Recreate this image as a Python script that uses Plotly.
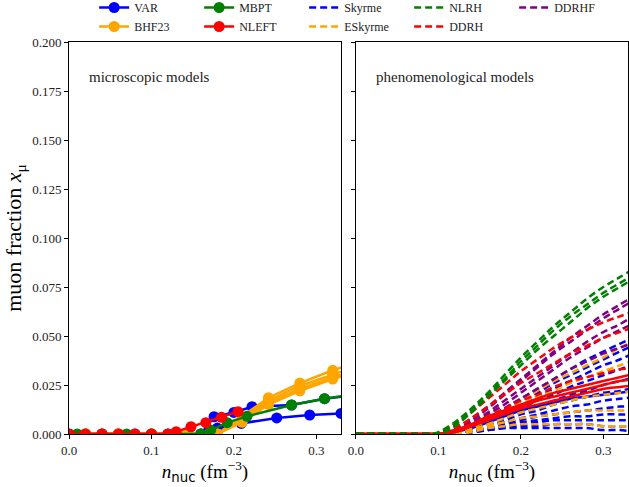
import plotly.graph_objects as go

# ---------------- microscopic models (left panel) ----------------
VAR_X = [[0.00, 0.04, 0.08, 0.12, 0.16, 0.18, 0.209, 0.252, 0.292, 0.33, 0.37],
         [0.02, 0.06, 0.10, 0.14, 0.16, 0.176, 0.20, 0.222, 0.27, 0.31, 0.35]]
VAR_Y = [[0, 0, 0, 0, 0, 0.003, 0.0054, 0.0082, 0.0097, 0.0105, 0.011],
         [0, 0, 0, 0, 0, 0.0088, 0.011, 0.0139, 0.0148, 0.018, 0.020]]

BHF_X = [0.02, 0.06, 0.10, 0.14, 0.18, 0.21, 0.242, 0.28, 0.32, 0.36]
BHF_Y = [[0, 0, 0, 0, 0, 0.009, 0.0185, 0.0260, 0.0325, 0.038],
         [0, 0, 0, 0, 0, 0.008, 0.0170, 0.0245, 0.0305, 0.036],
         [0, 0, 0, 0, 0, 0.007, 0.0160, 0.0230, 0.0290, 0.034],
         [0, 0, 0, 0, 0, 0.006, 0.0150, 0.0220, 0.0280, 0.033]]

MBPT_X = [0.01, 0.04, 0.07, 0.10, 0.13, 0.16, 0.172, 0.192, 0.216, 0.27, 0.31, 0.35]
MBPT_Y = [0, 0, 0, 0, 0, 0, 0.002, 0.0058, 0.009, 0.0148, 0.018, 0.0205]

NLEFT_X = [0.00, 0.02, 0.04, 0.06, 0.08, 0.10, 0.12, 0.13, 0.148, 0.166, 0.185, 0.205]
NLEFT_Y = [0, 0, 0, 0, 0, 0, 0, 0.0012, 0.0037, 0.0058, 0.0085, 0.0114]

# ---------------- phenomenological models (right panel) ----------------
N_GRID = [0.0, 0.05, 0.09, 0.10, 0.12, 0.14, 0.16, 0.18, 0.20, 0.22, 0.24, 0.26, 0.28, 0.30, 0.32, 0.34]

SKYRME_Y = [
    [0, 0, 0, 0, 0.001, 0.004, 0.008, 0.013, 0.018, 0.023, 0.028, 0.033, 0.038, 0.042, 0.046, 0.050],
    [0, 0, 0, 0, 0.001, 0.004, 0.008, 0.012, 0.017, 0.021, 0.026, 0.030, 0.034, 0.038, 0.042, 0.046],
    [0, 0, 0, 0, 0.001, 0.003, 0.007, 0.011, 0.015, 0.019, 0.023, 0.027, 0.031, 0.035, 0.038, 0.042],
    [0, 0, 0, 0, 0, 0.003, 0.006, 0.010, 0.013, 0.017, 0.020, 0.024, 0.027, 0.030, 0.033, 0.036],
    [0, 0, 0, 0, 0, 0.002, 0.005, 0.008, 0.011, 0.014, 0.017, 0.020, 0.022, 0.025, 0.027, 0.029],
    [0, 0, 0, 0, 0, 0.002, 0.004, 0.007, 0.010, 0.012, 0.015, 0.017, 0.019, 0.021, 0.022, 0.024],
    [0, 0, 0, 0, 0, 0.001, 0.003, 0.006, 0.008, 0.010, 0.012, 0.014, 0.015, 0.017, 0.018, 0.019],
    [0, 0, 0, 0, 0, 0.001, 0.003, 0.005, 0.007, 0.009, 0.010, 0.011, 0.012, 0.013, 0.014, 0.014],
    [0, 0, 0, 0, 0, 0.001, 0.002, 0.004, 0.006, 0.007, 0.008, 0.009, 0.009, 0.010, 0.010, 0.010],
    [0, 0, 0, 0, 0, 0.001, 0.002, 0.004, 0.005, 0.006, 0.007, 0.007, 0.007, 0.007, 0.007, 0.007],
    [0, 0, 0, 0, 0, 0.001, 0.002, 0.003, 0.004, 0.004, 0.005, 0.005, 0.005, 0.004, 0.004, 0.004],
    [0, 0, 0, 0, 0, 0.001, 0.002, 0.003, 0.003, 0.003, 0.003, 0.003, 0.003, 0.002, 0.002, 0.001],
]
ESKYRME_Y = [
    [0, 0, 0, 0, 0.001, 0.004, 0.008, 0.012, 0.017, 0.022, 0.027, 0.031, 0.035, 0.039, 0.044, 0.048],
    [0, 0, 0, 0, 0, 0.003, 0.007, 0.011, 0.015, 0.019, 0.022, 0.026, 0.029, 0.032, 0.035, 0.038],
    [0, 0, 0, 0, 0, 0.002, 0.005, 0.008, 0.011, 0.013, 0.015, 0.017, 0.019, 0.020, 0.021, 0.022],
    [0, 0, 0, 0, 0, 0.002, 0.004, 0.006, 0.008, 0.009, 0.010, 0.011, 0.012, 0.012, 0.012, 0.012],
    [0, 0, 0, 0, 0, 0.001, 0.003, 0.004, 0.005, 0.005, 0.005, 0.005, 0.005, 0.004, 0.004, 0.004],
]
NLRH_Y = [
    [0, 0, 0, 0.001, 0.006, 0.013, 0.021, 0.030, 0.039, 0.047, 0.055, 0.062, 0.069, 0.075, 0.080, 0.085],
    [0, 0, 0, 0.0005, 0.005, 0.012, 0.020, 0.028, 0.037, 0.045, 0.053, 0.060, 0.066, 0.072, 0.077, 0.082],
    [0, 0, 0, 0, 0.004, 0.011, 0.019, 0.027, 0.035, 0.043, 0.050, 0.057, 0.064, 0.070, 0.075, 0.080],
]
DDRH_Y = [
    [0, 0, 0, 0.0005, 0.005, 0.011, 0.018, 0.025, 0.032, 0.038, 0.044, 0.049, 0.053, 0.057, 0.060, 0.063],
    [0, 0, 0, 0, 0.003, 0.008, 0.014, 0.020, 0.026, 0.031, 0.036, 0.041, 0.045, 0.049, 0.052, 0.055],
    [0, 0, 0, 0, 0.002, 0.005, 0.009, 0.013, 0.017, 0.020, 0.024, 0.027, 0.029, 0.031, 0.033, 0.034],
]
DDRHF_Y = [
    [0, 0, 0, 0, 0.003, 0.008, 0.014, 0.021, 0.028, 0.035, 0.042, 0.049, 0.055, 0.061, 0.066, 0.071],
    [0, 0, 0, 0, 0.002, 0.007, 0.013, 0.020, 0.027, 0.034, 0.041, 0.047, 0.053, 0.059, 0.064, 0.069],
    [0, 0, 0, 0, 0.002, 0.006, 0.011, 0.017, 0.023, 0.029, 0.035, 0.041, 0.047, 0.052, 0.056, 0.061],
    [0, 0, 0, 0, 0.001, 0.005, 0.010, 0.015, 0.021, 0.027, 0.033, 0.039, 0.044, 0.049, 0.053, 0.057],
    [0, 0, 0, 0, 0.001, 0.004, 0.008, 0.013, 0.018, 0.023, 0.028, 0.033, 0.037, 0.041, 0.044, 0.047],
]
SOLID_RED_Y = [
    [0, 0, 0, 0, 0.002, 0.005, 0.009, 0.012, 0.015, 0.018, 0.021, 0.023, 0.025, 0.027, 0.029, 0.031],
    [0, 0, 0, 0, 0.002, 0.004, 0.008, 0.011, 0.014, 0.017, 0.019, 0.021, 0.023, 0.025, 0.027, 0.028],
    [0, 0, 0, 0, 0.001, 0.004, 0.007, 0.010, 0.013, 0.015, 0.017, 0.019, 0.021, 0.023, 0.024, 0.025],
]
SOLID_BLUE_Y = [
    [0, 0, 0, 0, 0.001, 0.003, 0.006, 0.009, 0.012, 0.014, 0.016, 0.018, 0.019, 0.020, 0.021, 0.022],
]

Y_TICKS = [0.0, 0.025, 0.05, 0.075, 0.1, 0.125, 0.15, 0.175, 0.2]
X_TICKS = [0.0, 0.1, 0.2, 0.3]

BLUE, ORANGE, GREEN, RED, PURPLE = "#0000ff", "#ffa500", "#008000", "#ff0000", "#800080"
SERIF = "Liberation Serif, Times New Roman, serif"
DASH = "7px,4px"

fig = go.Figure()


def micro(x, y, color, name, show, rank):
    fig.add_trace(go.Scatter(
        x=x, y=y, mode="lines+markers", name=name, showlegend=show, legendrank=rank,
        legendgroup=name, line=dict(color=color, width=2.5),
        marker=dict(color=color, size=11), xaxis="x", yaxis="y"))


for i, (xx, yy) in enumerate(zip(VAR_X, VAR_Y)):
    micro(xx, yy, BLUE, "VAR", i == 0, 1)
for i, yy in enumerate(BHF_Y):
    micro(BHF_X, yy, ORANGE, "BHF23", i == 0, 6)
micro(MBPT_X, MBPT_Y, GREEN, "MBPT", True, 2)
micro(NLEFT_X, NLEFT_Y, RED, "NLEFT", True, 7)


def pheno(ys, color, name, rank, dash=DASH, legend=True):
    for i, yy in enumerate(ys):
        fig.add_trace(go.Scatter(
            x=N_GRID, y=yy, mode="lines", name=name,
            showlegend=legend and i == 0, legendrank=rank, legendgroup=name,
            line=dict(color=color, width=2.5, dash=dash, shape="spline"),
            xaxis="x2", yaxis="y2"))


pheno(SKYRME_Y, BLUE, "Skyrme", 3)
pheno(SOLID_BLUE_Y, BLUE, "solid_b", 20, dash="solid", legend=False)
pheno(ESKYRME_Y, ORANGE, "ESkyrme", 8)
pheno(DDRHF_Y, PURPLE, "DDRHF", 5)
pheno(DDRH_Y, RED, "DDRH", 9)
pheno(SOLID_RED_Y, RED, "solid_r", 21, dash="solid", legend=False)
pheno(NLRH_Y, GREEN, "NLRH", 4)

axis_common = dict(range=[0, 0.33], tickvals=X_TICKS, tickformat=".1f",
                   showline=True, linecolor="black", linewidth=1, mirror=True,
                   ticks="outside", ticklen=4, tickcolor="black", showgrid=False, zeroline=False,
                   tickfont=dict(family=SERIF, size=13, color="#222"),
                   title=dict(text="<i>n</i><sub><span style='font-family:DejaVu Sans'>nuc</span></sub> (fm<sup>−3</sup>)",
                              font=dict(family=SERIF, size=19, color="black"), standoff=8))
yaxis_common = dict(range=[0, 0.2], tickvals=Y_TICKS, tickformat=".3f",
                    showline=True, linecolor="black", linewidth=1, mirror=True,
                    ticks="outside", ticklen=4, tickcolor="black", showgrid=False, zeroline=False,
                    tickfont=dict(family=SERIF, size=13, color="#222"))

fig.update_layout(
    width=629, height=487,
    margin=dict(l=69, r=1, t=42, b=53, autoexpand=False),
    paper_bgcolor="white", plot_bgcolor="white",
    font=dict(family=SERIF, size=13, color="black"),
    xaxis=dict(domain=[0, 0.4866], anchor="y", **axis_common),
    xaxis2=dict(domain=[0.5134, 1], anchor="y2", **axis_common),
    yaxis=dict(domain=[0, 1], anchor="x",
               title=dict(text="muon fraction <i>x</i><sub>μ</sub>",
                          font=dict(family=SERIF, size=22, color="black"), standoff=4),
               **yaxis_common),
    yaxis2=dict(domain=[0, 1], anchor="x2", showticklabels=False, **yaxis_common),
    legend=dict(orientation="h", x=0.045, xanchor="left", y=1.125, yanchor="top",
                entrywidth=60, entrywidthmode="pixels", tracegroupgap=0,
                font=dict(family=SERIF, size=12, color="#222"), itemwidth=30,
                bgcolor="rgba(0,0,0,0)"),
    annotations=[
        dict(text="microscopic models", x=0.032, y=0.91, xref="paper", yref="paper",
             xanchor="left", yanchor="middle", showarrow=False,
             font=dict(family=SERIF, size=15, color="#222")),
        dict(text="phenomenological models", x=0.546, y=0.91, xref="paper", yref="paper",
             xanchor="left", yanchor="middle", showarrow=False,
             font=dict(family=SERIF, size=15, color="#222")),
    ],
)

fig.write_html("out.html")
